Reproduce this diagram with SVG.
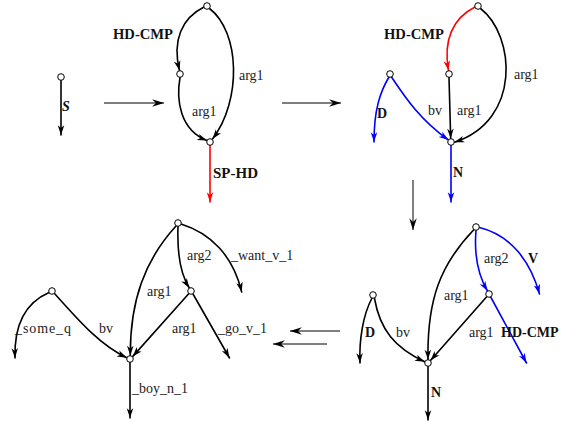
<svg xmlns="http://www.w3.org/2000/svg" width="570" height="427" viewBox="0 0 570 427">
<defs>
<style>
.e{fill:none;stroke-width:1.6;stroke-linecap:round}
.k{stroke:#000;marker-end:url(#ak)}
.r{stroke:#f00;marker-end:url(#ar)}
.b{stroke:#00f;marker-end:url(#ab)}
.t{stroke:#000;stroke-width:1;fill:none;marker-end:url(#at)}
.n{fill:#fff;stroke:#000;stroke-width:1}
text{font-family:"Liberation Serif","Times New Roman",serif;font-size:14px;fill:#222}
.bd{font-weight:bold;fill:#111}
</style>
<marker id="ak" markerUnits="userSpaceOnUse" markerWidth="12" markerHeight="10" viewBox="-10 -4 11 8" refX="0" refY="0" orient="auto"><path d="M0,0 L-9,-3 L-6.5,0 L-9,3 Z" fill="#000"/></marker>
<marker id="ar" markerUnits="userSpaceOnUse" markerWidth="12" markerHeight="10" viewBox="-10 -4 11 8" refX="0" refY="0" orient="auto"><path d="M0,0 L-9,-3 L-6.5,0 L-9,3 Z" fill="#f00"/></marker>
<marker id="ab" markerUnits="userSpaceOnUse" markerWidth="12" markerHeight="10" viewBox="-10 -4 11 8" refX="0" refY="0" orient="auto"><path d="M0,0 L-9,-3 L-6.5,0 L-9,3 Z" fill="#00f"/></marker>
<marker id="at" markerUnits="userSpaceOnUse" markerWidth="14" markerHeight="10" viewBox="-12 -4 13 8" refX="0" refY="0" orient="auto"><path d="M0,0 L-11,-3.5 L-7.5,0 L-11,3.5 Z" fill="#000"/></marker>
</defs>
<g id="connectors">
<!-- panel 1 -->
<path class="e k" d="M61,80.5 L61,135"/>
<!-- transition arrows -->
<path class="t" d="M104,103 L164,103" stroke="#444"/>
<path class="t" d="M282,103 L341,103"/>
<path class="t" d="M413,180 L413,230"/>
<path class="t" d="M340,331 L290,331"/>
<path class="t" d="M327,344 L273,344"/>
<!-- panel 2 -->
<path class="e k" d="M204,7 C182,18 172,40 179.5,70.5"/>
<path class="e k" d="M209.5,8.5 C240,32 242,100 212.5,139"/>
<path class="e k" d="M180,77.5 C176,100 180,130 207,140.5"/>
<path class="e r" d="M210,145.5 L210,202"/>
<!-- panel 3 -->
<path class="e r" d="M475,7 C453,18 443,40 448.5,70.5"/>
<path class="e k" d="M449,77.5 L450.7,138.5"/>
<path class="e k" d="M480.5,8.5 C515,35 522,120 454.5,142.2"/>
<path class="e b" d="M389,77 C380,92 374,110 374,142"/>
<path class="e b" d="M391.5,77 C405,97 420,120 448.5,140"/>
<path class="e b" d="M451,145.5 L451,202"/>
<!-- panel 4 -->
<path class="e k" d="M474,229.5 C440,265 427,300 428,359.5"/>
<path class="e b" d="M476,230.5 C474,255 478,275 487.5,291"/>
<path class="e b" d="M479.5,227.5 C510,235 530,260 539.5,294"/>
<path class="e k" d="M486.7,296.7 L430.5,360.5"/>
<path class="e b" d="M490.7,297 L526.5,363"/>
<path class="e k" d="M372,298 C363,315 359,340 360,363"/>
<path class="e k" d="M374.5,298.5 C380,330 395,348 424.7,361.8"/>
<path class="e k" d="M428,366.5 L428,420"/>
<!-- panel 5 -->
<path class="e k" d="M49,292.5 C25,303 14,325 15,358"/>
<path class="e k" d="M54.5,293.5 C80,322 100,345 126.8,357.8"/>
<path class="e k" d="M176,226 C145,260 130,300 130.3,355.5"/>
<path class="e k" d="M178,226.5 C177,255 181,275 189.3,288"/>
<path class="e k" d="M181,224 C210,233 233,255 241.7,292"/>
<path class="e k" d="M188.7,293.7 L132.6,356.6"/>
<path class="e k" d="M193,294 L229.5,358"/>
<path class="e k" d="M130,362.5 L130,418"/>
</g>
<g id="node-p1"><circle class="n" cx="61" cy="77" r="3.3"/></g>
<g id="node-p2-top"><circle class="n" cx="207" cy="6" r="3.3"/></g>
<g id="node-p2-mid"><circle class="n" cx="180" cy="74" r="3.3"/></g>
<g id="node-p2-bot"><circle class="n" cx="210" cy="142" r="3.3"/></g>
<g id="node-p3-top"><circle class="n" cx="478" cy="6" r="3.3"/></g>
<g id="node-p3-mid"><circle class="n" cx="449" cy="74" r="3.3"/></g>
<g id="node-p3-d"><circle class="n" cx="390" cy="74" r="3.3"/></g>
<g id="node-p3-bot"><circle class="n" cx="451" cy="142" r="3.3"/></g>
<g id="node-p4-top"><circle class="n" cx="476" cy="227" r="3.3"/></g>
<g id="node-p4-d"><circle class="n" cx="373" cy="295" r="3.3"/></g>
<g id="node-p4-mid"><circle class="n" cx="489" cy="294" r="3.3"/></g>
<g id="node-p4-bot"><circle class="n" cx="428" cy="363" r="3.3"/></g>
<g id="node-p5-top"><circle class="n" cx="178" cy="223" r="3.3"/></g>
<g id="node-p5-some"><circle class="n" cx="52" cy="291" r="3.3"/></g>
<g id="node-p5-mid"><circle class="n" cx="191" cy="291" r="3.3"/></g>
<g id="node-p5-bot"><circle class="n" cx="130" cy="359" r="3.3"/></g>
<g id="labels">
<text class="bd" x="62" y="111" font-style="italic">S</text>
<text class="bd" x="113" y="39" textLength="60" lengthAdjust="spacingAndGlyphs">HD-CMP</text>
<text x="239" y="80">arg1</text>
<text x="192" y="116">arg1</text>
<text class="bd" x="213" y="177.5" textLength="45" lengthAdjust="spacingAndGlyphs">SP-HD</text>
<text class="bd" x="384" y="39" textLength="60" lengthAdjust="spacingAndGlyphs">HD-CMP</text>
<text x="514" y="79">arg1</text>
<text x="428" y="115">bv</text>
<text x="457" y="115">arg1</text>
<text class="bd" x="377" y="118">D</text>
<text class="bd" x="453" y="177">N</text>
<text x="484" y="263">arg2</text>
<text class="bd" x="528" y="263">V</text>
<text x="444" y="300">arg1</text>
<text class="bd" x="365" y="337">D</text>
<text x="396" y="337">bv</text>
<text x="469" y="337">arg1</text>
<text class="bd" x="501" y="337">HD-CMP</text>
<text class="bd" x="431" y="397">N</text>
<text x="15" y="333" textLength="56" lengthAdjust="spacing">_some_q</text>
<text x="99" y="333">bv</text>
<text x="147" y="296">arg1</text>
<text x="172" y="333">arg1</text>
<text x="187" y="260">arg2</text>
<text x="231" y="260">_want_v_1</text>
<text x="218" y="333">_go_v_1</text>
<text x="132" y="393">_boy_n_1</text>
</g>
</svg>
